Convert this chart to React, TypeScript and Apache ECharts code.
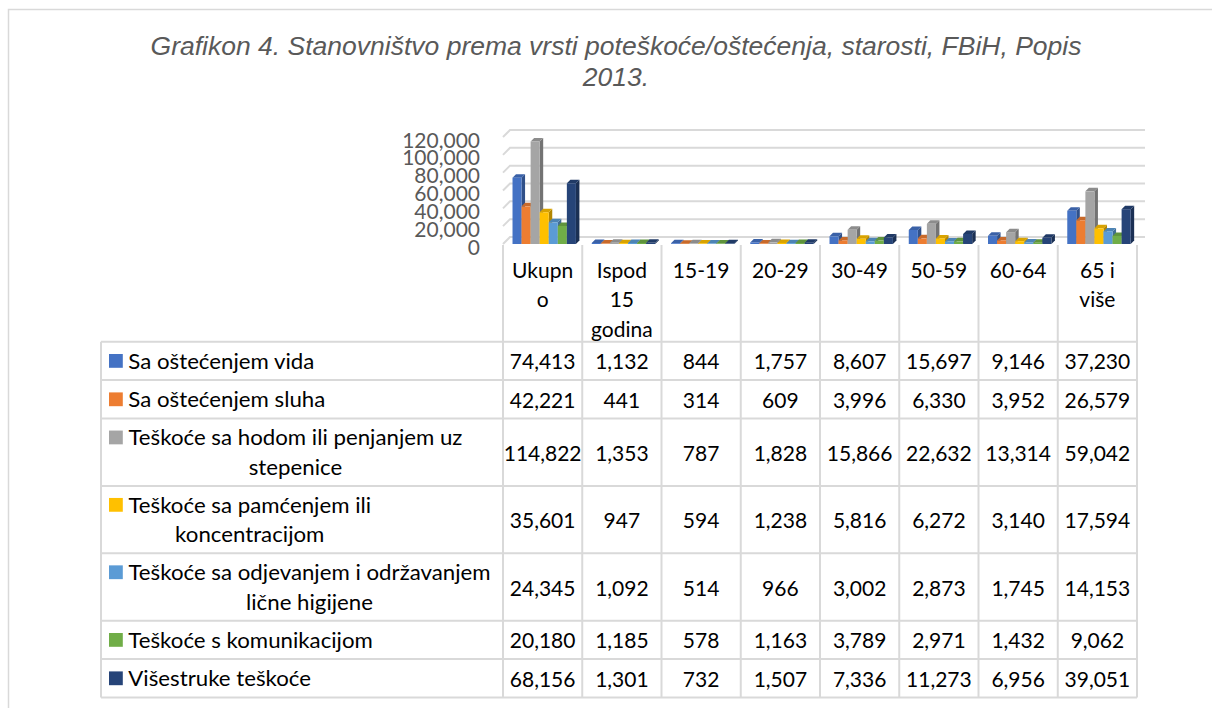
import React, { useEffect, useRef } from "react";
import * as echarts from "echarts";

const categories = ["Ukupno", "Ispod 15 godina", "15-19", "20-29", "30-49", "50-59", "60-64", "65 i više"];
const categoryHeaderLines = [["Ukupn", "o"], ["Ispod", "15", "godina"], ["15-19"], ["20-29"], ["30-49"], ["50-59"], ["60-64"], ["65 i", "više"]];

const seriesNames = [
  "Sa oštećenjem vida",
  "Sa oštećenjem sluha",
  "Teškoće sa hodom ili penjanjem uz stepenice",
  "Teškoće sa pamćenjem ili koncentracijom",
  "Teškoće sa odjevanjem i održavanjem lične higijene",
  "Teškoće s komunikacijom",
  "Višestruke teškoće",
];
const seriesLabelLines = [
  ["Sa oštećenjem vida"],
  ["Sa oštećenjem sluha"],
  ["Teškoće sa hodom ili penjanjem uz", "stepenice"],
  ["Teškoće sa pamćenjem ili", "koncentracijom"],
  ["Teškoće sa odjevanjem i održavanjem", "lične higijene"],
  ["Teškoće s komunikacijom"],
  ["Višestruke teškoće"],
];

const vida = [74413, 1132, 844, 1757, 8607, 15697, 9146, 37230];
const sluha = [42221, 441, 314, 609, 3996, 6330, 3952, 26579];
const hodom = [114822, 1353, 787, 1828, 15866, 22632, 13314, 59042];
const pamcenje = [35601, 947, 594, 1238, 5816, 6272, 3140, 17594];
const odjevanje = [24345, 1092, 514, 966, 3002, 2873, 1745, 14153];
const komunikacija = [20180, 1185, 578, 1163, 3789, 2971, 1432, 9062];
const visestruke = [68156, 1301, 732, 1507, 7336, 11273, 6956, 39051];
const seriesValues = [vida, sluha, hodom, pamcenje, odjevanje, komunikacija, visestruke];

const yTicks = [0, 20000, 40000, 60000, 80000, 100000, 120000];
const colors = ["#4472C4", "#ED7D31", "#A5A5A5", "#FFC000", "#5B9BD5", "#70AD47", "#264478"];

const titleLines = ["Grafikon 4. Stanovništvo prema vrsti poteškoće/oštećenja, starosti, FBiH, Popis", "2013."];

function shade(hex: string, f: number) {
  const n = parseInt(hex.slice(1), 16);
  const r = Math.round(((n >> 16) & 255) * f);
  const g = Math.round(((n >> 8) & 255) * f);
  const b = Math.round((n & 255) * f);
  return `rgb(${r},${g},${b})`;
}

const fmt = (v: number) => v.toLocaleString("en-US");

const TABLE_FONT = "Lato";
const TABLE_SIZE = 21;
const LABEL_STRETCH = 1.06;

function measure(text: string) {
  const c = document.createElement("canvas");
  const ctx = c.getContext("2d")!;
  ctx.font = `${TABLE_SIZE}px ${TABLE_FONT}`;
  return ctx.measureText(text).width * LABEL_STRETCH;
}

export default function App() {
  const ref = useRef<HTMLDivElement>(null);
  useEffect(() => {
    const chart = echarts.init(ref.current!, undefined, { renderer: "svg" });

    const gridLeft = 503;
    const gridRightEdge = 1137;
    const gridTop = 137;
    const gridBottomY = 244;
    const colW = (gridRightEdge - gridLeft) / categories.length;
    const lineColor = "#d9d9d9";

    const graphics: any[] = [];
    graphics.push({
      type: "rect",
      shape: { x: 8.5, y: 9.5, width: 1400, height: 900 },
      style: { fill: "none", stroke: lineColor, lineWidth: 1.5 },
      silent: true,
    });
    const titleFont = "italic 26.5px 'Liberation Sans', Arial, sans-serif";
    graphics.push({
      type: "text",
      x: 616,
      y: 46,
      style: { text: titleLines[0], fill: "#595959", font: titleFont, align: "center", verticalAlign: "middle" },
    });
    graphics.push({
      type: "text",
      x: 616,
      y: 77,
      style: { text: titleLines[1], fill: "#595959", font: titleFont, align: "center", verticalAlign: "middle" },
    });

    const tableLeft = 101;
    const headerTop = 245;
    const bodyTop = 341.7;
    const rowTops: number[] = [];
    const rowHs: number[] = [];
    let yCur = bodyTop;
    seriesLabelLines.forEach((lines) => {
      const h = 9.4 + 29 * lines.length;
      rowTops.push(yCur);
      rowHs.push(h);
      yCur += h;
    });
    const tableBottom = yCur;

    [bodyTop, ...rowTops.slice(1), tableBottom].forEach((y) => {
      graphics.push({ type: "line", shape: { x1: tableLeft, y1: y, x2: gridRightEdge, y2: y }, style: { stroke: lineColor, lineWidth: 2 }, silent: true });
    });
    graphics.push({ type: "line", shape: { x1: tableLeft, y1: bodyTop, x2: tableLeft, y2: tableBottom }, style: { stroke: lineColor, lineWidth: 2 }, silent: true });
    for (let i = 0; i <= categories.length; i++) {
      const x = gridLeft + i * colW;
      graphics.push({ type: "line", shape: { x1: x, y1: headerTop, x2: x, y2: tableBottom }, style: { stroke: lineColor, lineWidth: 2 }, silent: true });
    }
    const font = `${TABLE_SIZE}px ${TABLE_FONT}, sans-serif`;
    categoryHeaderLines.forEach((lines, i) => {
      const cx = gridLeft + (i + 0.5) * colW;
      lines.forEach((ln, j) => {
        graphics.push({ type: "text", x: cx, y: 269.5 + j * 29.3, style: { text: ln, font, fill: "#000", align: "center", verticalAlign: "middle" } });
      });
    });
    seriesLabelLines.forEach((lines, r) => {
      const top = rowTops[r];
      const h = rowHs[r];
      const firstY = top + (h - (lines.length - 1) * 29.5) / 2;
      graphics.push({ type: "rect", shape: { x: 109, y: firstY - 6.9, width: 13.8, height: 13.8 }, style: { fill: colors[r] } });
      const widths = lines.map(measure);
      const blockW = Math.max(...widths);
      const textLeft = 128.3;
      lines.forEach((ln, j) => {
        if (lines.length === 1) {
          graphics.push({ type: "text", x: textLeft, y: firstY, scaleX: LABEL_STRETCH, style: { text: ln, font, fill: "#000", align: "left", verticalAlign: "middle" } });
        } else {
          graphics.push({ type: "text", x: textLeft + blockW / 2, y: firstY + j * 29.5, scaleX: LABEL_STRETCH, style: { text: ln, font, fill: "#000", align: "center", verticalAlign: "middle" } });
        }
      });
      seriesValues[r].forEach((v, i) => {
        graphics.push({ type: "text", x: gridLeft + (i + 0.5) * colW, y: top + h / 2, style: { text: fmt(v), font, fill: "#000", align: "center", verticalAlign: "middle" } });
      });
    });

    const depth = 3.5;
    const barSeries = seriesValues.map((vals, k) => ({
      type: "custom",
      name: seriesNames[k],
      z: 3,
      coordinateSystem: "cartesian2d",
      encode: { x: 0, y: 1 },
      data: vals.map((v, i) => [i, v]),
      renderItem: (params: any, api: any) => {
        const i = api.value(0);
        const v = api.value(1);
        const base = api.coord([i, 0]);
        const top = api.coord([i, v]);
        const catW = api.size([1, 0])[0];
        const w = (catW * 0.8) / 7;
        const x0 = base[0] - catW / 2 + catW * 0.12 + k * w;
        const yb = base[1];
        const yt = top[1];
        const d = depth;
        return {
          type: "group",
          children: [
            { type: "polygon", shape: { points: [[x0 + w, yt], [x0 + w + d, yt - d], [x0 + w + d, yb - d], [x0 + w, yb]] }, style: { fill: shade(colors[k], 0.7) } },
            { type: "polygon", shape: { points: [[x0, yt], [x0 + d, yt - d], [x0 + w + d, yt - d], [x0 + w, yt]] }, style: { fill: shade(colors[k], 0.85) } },
            { type: "rect", shape: { x: x0, y: yt, width: w, height: Math.max(0, yb - yt) }, style: { fill: colors[k] } },
          ],
        };
      },
    }));

    const gridSeries = {
      type: "custom",
      name: "grid",
      z: 1,
      silent: true,
      coordinateSystem: "cartesian2d",
      encode: { x: 0, y: 1 },
      data: yTicks.map((t) => [0, t]),
      renderItem: (params: any, api: any) => {
        const y = api.coord([0, api.value(1)])[1];
        const cs = params.coordSys;
        return {
          type: "polyline",
          shape: { points: [[cs.x, y], [cs.x + 7, y - 7], [cs.x + cs.width + 8, y - 7]] },
          style: { stroke: lineColor, lineWidth: 2, fill: "none" },
        };
      },
    };

    const yLabelSeries = {
      type: "custom",
      name: "yLabels",
      z: 2,
      silent: true,
      coordinateSystem: "cartesian2d",
      encode: { x: 0, y: 1 },
      data: yTicks.map((t) => [0, t]),
      renderItem: (params: any, api: any) => {
        const v = api.value(1);
        const y = api.coord([0, v])[1];
        const cs = params.coordSys;
        return {
          type: "text",
          x: cs.x - 23,
          y: y + 2,
          style: { text: fmt(v), fill: "#595959", font: "21px Lato, sans-serif", align: "right", verticalAlign: "middle" },
        };
      },
    };

    chart.setOption({
      animation: false,
      grid: { left: gridLeft, top: gridTop, width: gridRightEdge - gridLeft, height: gridBottomY - gridTop, containLabel: false },
      xAxis: {
        type: "category",
        data: categories,
        axisLine: { show: false },
        axisTick: { show: false },
        axisLabel: { show: false },
        splitLine: { show: false },
      },
      yAxis: {
        type: "value",
        min: 0,
        max: 120000,
        interval: 20000,
        axisLine: { show: false },
        axisTick: { show: false },
        splitLine: { show: false },
        axisLabel: { show: false },
      },
      series: [gridSeries, yLabelSeries, ...barSeries],
      graphic: graphics,
    });
    return () => chart.dispose();
  }, []);
  return <div ref={ref} style={{ position: "absolute", left: 0, top: 0, width: 1212, height: 708, background: "#fff" }} />;
}
